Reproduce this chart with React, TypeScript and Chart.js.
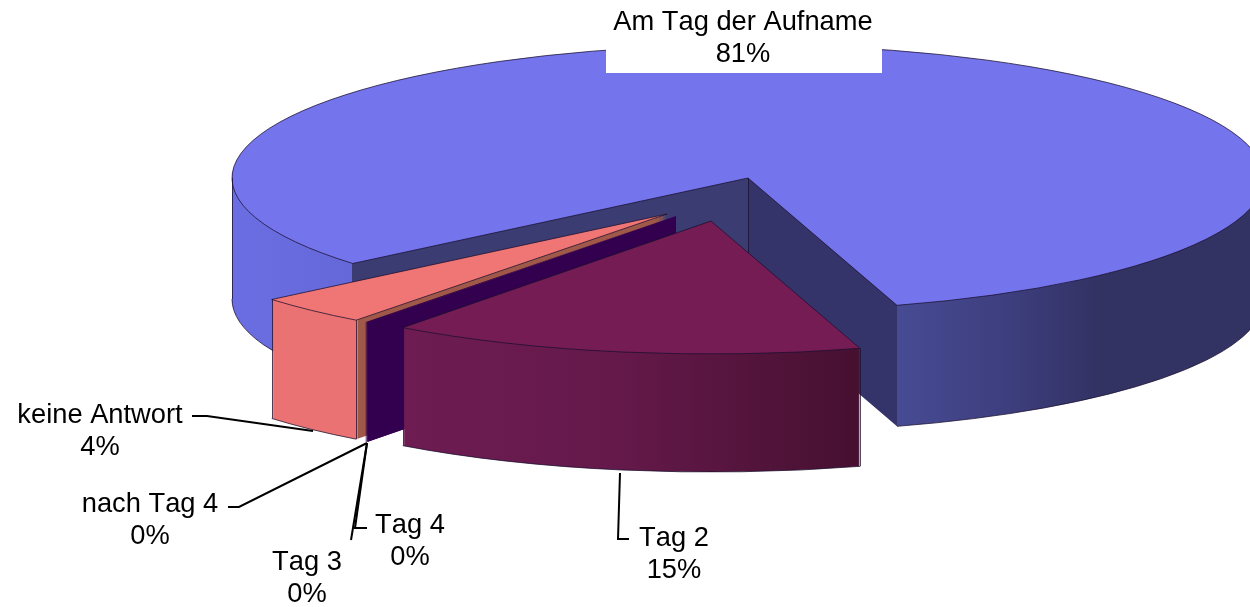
import React, { useEffect, useRef } from "react";
import { Chart, registerables } from "chart.js";

Chart.register(...registerables);

const CATEGORIES = ["Am Tag der Aufname", "Tag 2", "Tag 3", "Tag 4", "nach Tag 4", "keine Antwort"];
const VALUES = [81.45, 14.85, 0, 0, 0.1, 3.6];
const TOP_COLORS = ["#7474ec", "#751c55", "#660066", "#ccffff", "#33004f", "#f07575"];

const FONT = '27.3px "Liberation Sans", Arial, sans-serif';
const LABEL_STYLE = [
  { x: 743, y: 30 },
  { x: 674, y: 546 },
  { x: 307, y: 570 },
  { x: 410, y: 533 },
  { x: 150, y: 512 },
  { x: 100, y: 423 },
];
const LEADERS = [
  [],
  [[620, 473], [618, 539], [629, 539]],
  [[367, 443], [351, 540]],
  [[367, 443], [355, 528], [367, 528]],
  [[367, 443], [239, 507], [228, 507]],
  [[313, 431], [207, 416], [192, 416]],
];
const PIE = { x: 748, y: 178, rx: 516, ry: 133 };
const DEPTHS = [121, 118, 119, 119, 119, 119];
const SHIFTS = [[0, 0], [-37, 43], [-72, 38], [-72, 38], [-72, 38], [-81, 36]];
const DRAW_ORDER = [0, 5, 4, 3, 2, 1];
const RIM_STOPS: [number, string][][] = [
  [[232, "#6a6ee2"], [351.5, "#6468d8"], [352, "#3a3c72"], [748, "#3a3c72"], [748.5, "#34346b"], [896.5, "#34346b"], [897, "#474b93"], [1000, "#3e3f80"], [1100, "#323263"], [1250, "#323263"]],
  [[401, "#6e1c52"], [620, "#64194a"], [859, "#461030"]],
  [[300, "#33004f"], [700, "#33004f"]],
  [[300, "#33004f"], [700, "#33004f"]],
  [[300, "#33004f"], [700, "#33004f"]],
  [[271, "#ea7272"], [357.5, "#ea7272"], [358, "#a05848"], [700, "#a05848"]],
];
const EDGE = "rgba(25,15,45,0.75)";

const plainArc = (fill: any) => ({
  backgroundColor: fill,
  borderColor: "transparent",
  borderWidth: 0,
  borderAlign: "center",
  offset: 0,
  spacing: 0,
  circular: true,
  borderRadius: 0,
  borderJoinStyle: "round",
  selfJoin: false,
  borderDash: [],
  borderDashOffset: 0,
});

const pie3d = {
  id: "pie3d",
  beforeDatasetsDraw(chart: any) {
    const { ctx } = chart;
    const arcs = chart.getDatasetMeta(0).data;
    const r = arcs[0].outerRadius;
    const cx = arcs[0].x;
    const cy = arcs[0].y;
    const sx = PIE.rx / r;
    const sy = PIE.ry / r;

    const place = (i: number, dy: number) => {
      ctx.translate(PIE.x + SHIFTS[i][0], PIE.y + SHIFTS[i][1] + dy);
      ctx.scale(sx, sy);
      ctx.translate(-cx, -cy);
    };
    const screen = (i: number, a: number, dy = 0) => [
      PIE.x + SHIFTS[i][0] + PIE.rx * Math.cos(a),
      PIE.y + SHIFTS[i][1] + dy + PIE.ry * Math.sin(a),
    ];

    DRAW_ORDER.forEach((i) => {
      const arc = arcs[i];
      if (!VALUES[i]) return;
      const depth = DEPTHS[i];
      const original = arc.options;
      const toChartX = (x: number) => cx + (x - PIE.x - SHIFTS[i][0]) / sx;
      const stops = RIM_STOPS[i];
      const x0 = stops[0][0];
      const x1 = stops[stops.length - 1][0];
      const grad = ctx.createLinearGradient(toChartX(x0), 0, toChartX(x1), 0);
      stops.forEach(([x, c]) => grad.addColorStop((x - x0) / (x1 - x0), c));

      const start = arc.startAngle;
      const end = arc.endAngle;
      const thin = end - start < 0.05;

      arc.options = plainArc(grad);
      for (let k = depth; k > 0; k -= 1) {
        ctx.save();
        place(i, k);
        arc.draw(ctx);
        ctx.restore();
      }
      arc.options = plainArc(TOP_COLORS[i]);
      ctx.save();
      place(i, 0);
      arc.draw(ctx);
      ctx.restore();
      arc.options = original;

      if (thin) {
        // a sliver too narrow for the stacked arcs to cover its wall
        const [ax, ay] = screen(i, start);
        const ox = PIE.x + SHIFTS[i][0];
        const oy = PIE.y + SHIFTS[i][1];
        ctx.fillStyle = TOP_COLORS[i];
        ctx.beginPath();
        ctx.moveTo(ox, oy);
        ctx.lineTo(ax, ay);
        ctx.lineTo(ax, ay + depth);
        ctx.lineTo(ox, oy + depth);
        ctx.closePath();
        ctx.fill();
        return;
      }

      ctx.strokeStyle = EDGE;
      ctx.lineWidth = 1;

      // top outline
      ctx.save();
      place(i, 0);
      ctx.beginPath();
      ctx.moveTo(cx, cy);
      ctx.arc(cx, cy, r, start, end);
      ctx.closePath();
      ctx.restore();
      ctx.stroke();

      // bottom rim, only where it faces the viewer
      const segs: [number, number][] = [];
      for (let t = -2; t <= 2; t += 1) {
        const a = Math.max(start, t * 2 * Math.PI);
        const b = Math.min(end, t * 2 * Math.PI + Math.PI);
        if (b > a) segs.push([a, b]);
      }
      segs.forEach(([a, b]) => {
        ctx.save();
        place(i, depth);
        ctx.beginPath();
        ctx.arc(cx, cy, r, a, b);
        ctx.restore();
        ctx.stroke();
        [a, b].forEach((v) => {
          if (i === 0 && (v === start || v === end)) return;
          const [px, py] = screen(i, v);
          ctx.beginPath();
          ctx.moveTo(Math.round(px) + 0.5, py);
          ctx.lineTo(Math.round(px) + 0.5, py + depth);
          ctx.stroke();
        });
      });
      if (i === 0) {
        ctx.beginPath();
        ctx.moveTo(PIE.x + 0.5, PIE.y);
        ctx.lineTo(PIE.x + 0.5, PIE.y + depth);
        ctx.stroke();
      }
    });

    // leader lines
    ctx.strokeStyle = "#000";
    ctx.lineWidth = 2;
    LEADERS.forEach((pts) => {
      if (!pts.length) return;
      ctx.beginPath();
      pts.forEach(([x, y], n) => (n ? ctx.lineTo(x, y) : ctx.moveTo(x, y)));
      ctx.stroke();
    });

    // labels
    const total = VALUES.reduce((a, b) => a + b, 0);
    ctx.font = FONT;
    ctx.fontKerning = "none";
    ctx.textAlign = "center";
    ctx.textBaseline = "alphabetic";
    ctx.fillStyle = "#fff";
    ctx.fillRect(606, 8, 276, 65);
    ctx.fillStyle = "#000";
    CATEGORIES.forEach((name, i) => {
      const { x, y } = LABEL_STYLE[i];
      ctx.fillText(name, x, y);
      ctx.fillText(`${Math.round((VALUES[i] / total) * 100)}%`, x, y + 32);
    });
    return false;
  },
};

export default function App() {
  const ref = useRef<HTMLCanvasElement>(null);
  useEffect(() => {
    const chart = new Chart(ref.current!, {
      type: "pie",
      data: {
        labels: CATEGORIES,
        datasets: [{ data: VALUES, backgroundColor: TOP_COLORS, borderWidth: 0 }],
      },
      options: {
        animation: false,
        responsive: false,
        rotation: 230,
        layout: { padding: 0 },
        plugins: { legend: { display: false }, tooltip: { enabled: false } },
      },
      plugins: [pie3d],
    } as any);
    return () => chart.destroy();
  }, []);
  return (
    <div style={{ position: "fixed", left: 0, top: 0, width: 1250, height: 607, background: "#fff" }}>
      <canvas ref={ref} width={1250} height={607} style={{ display: "block" }} />
    </div>
  );
}
